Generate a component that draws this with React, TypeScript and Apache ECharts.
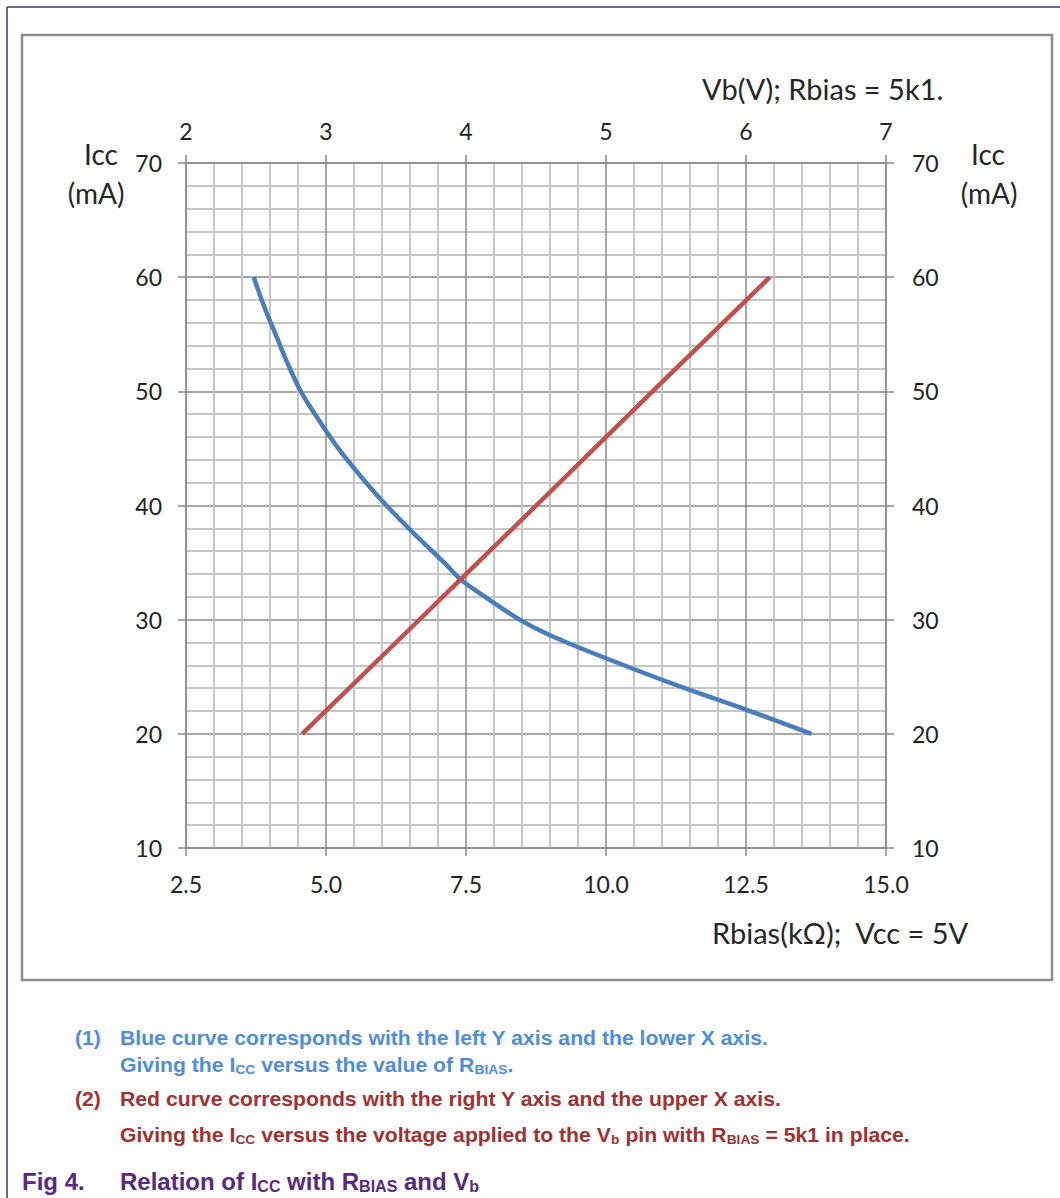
import React, { useEffect, useRef } from "react";
import * as echarts from "echarts";

// Blue curve: Icc (mA) versus Rbias (kΩ), lower X axis / left Y axis
const rbiasK = [3.71, 3.89, 4.10, 4.31, 4.55, 4.87, 5.22, 5.63, 6.08, 6.58, 7.11, 7.39, 7.69, 8.46, 9.06, 10.01, 11.32, 12.51, 13.67];
const iccBlue = [60, 57.5, 55, 52.5, 50, 47.5, 45, 42.5, 40, 37.5, 35, 33.6, 32.5, 30.0, 28.5, 26.6, 24.15, 22.1, 20.0];

// Red curve: Icc (mA) versus Vb (V), upper X axis / right Y axis
const vbVolt = [2.83, 3.50, 3.96, 4.56, 5.40, 6.17];
const iccRed = [20, 28.0, 33.5, 40.7, 50.8, 60];

// Axis ranges / ticks
const rbiasRange = [2.5, 15, 2.5];
const vbRange = [2, 7, 1];
const iccRange = [10, 70, 10];

const titleTop = "Vb(V); Rbias = 5k1.";
const titleBottom = "Rbias(kΩ);  Vcc = 5V";

const AXIS_COLOR = "#8a8a8a";
const MINOR_COLOR = "#c6c6c6";
const LABEL_COLOR = "#222";
const LABEL_FONT = "Lato";

function App() {
  const ref = useRef<HTMLDivElement>(null);
  useEffect(() => {
    if (!ref.current) return;
    const chart = echarts.init(ref.current, null, { renderer: "svg" });

    const axisCommon = {
      type: "value" as const,
      axisLine: { show: true, lineStyle: { color: AXIS_COLOR, width: 1.5 } },
      axisTick: { show: true, length: 8, lineStyle: { color: AXIS_COLOR, width: 1.5 } },
      axisLabel: { color: LABEL_COLOR, fontSize: 23, fontFamily: LABEL_FONT },
    };

    const blue = "#4f8ddb";
    const red = "#9e3232";
    const purple = "#57297f";

    const capText = (x: number, y: number, text: string, color: string, size = 20, subSize = 13, sx = 1.06) => ({
      type: "text",
      x,
      y,
      scaleX: sx,
      style: {
        text,
        fill: color,
        textAlign: "left",
        textVerticalAlign: "middle",
        rich: {
          a: { fontSize: size, lineHeight: size + 3, fontWeight: "bold", fontFamily: "Liberation Sans", fill: color },
          s: { fontSize: subSize, lineHeight: subSize, fontWeight: "bold", fontFamily: "Liberation Sans", verticalAlign: "bottom", fill: color },
        },
      },
    });

    const nameStyle = (text: string, align: string, size = 28) => ({
      text,
      fill: "#262626",
      font: `${size}px Lato`,
      textAlign: align,
      textVerticalAlign: "middle",
    });

    chart.setOption({
      animation: false,
      backgroundColor: "#ffffff",
      grid: { left: 186, top: 163, width: 700, height: 685, containLabel: false },
      xAxis: [
        {
          ...axisCommon,
          position: "bottom",
          min: rbiasRange[0],
          max: rbiasRange[1],
          interval: rbiasRange[2],
          axisLabel: { ...axisCommon.axisLabel, margin: 24, formatter: (v: number) => v.toFixed(1) },
          splitLine: { show: true, lineStyle: { color: AXIS_COLOR, width: 1.5 } },
          minorTick: { show: false, splitNumber: 5 },
          minorSplitLine: { show: true, lineStyle: { color: MINOR_COLOR, width: 2 } },
        },
        {
          ...axisCommon,
          position: "top",
          min: vbRange[0],
          max: vbRange[1],
          interval: vbRange[2],
          axisLabel: { ...axisCommon.axisLabel, margin: 21 },
          splitLine: { show: false },
        },
      ],
      yAxis: [
        {
          ...axisCommon,
          position: "left",
          min: iccRange[0],
          max: iccRange[1],
          interval: iccRange[2],
          axisLabel: { ...axisCommon.axisLabel, margin: 24 },
          splitLine: { show: true, lineStyle: { color: AXIS_COLOR, width: 1.5 } },
          minorTick: { show: false, splitNumber: 5 },
          minorSplitLine: { show: true, lineStyle: { color: MINOR_COLOR, width: 2 } },
        },
        {
          ...axisCommon,
          position: "right",
          min: iccRange[0],
          max: iccRange[1],
          interval: iccRange[2],
          axisLabel: { ...axisCommon.axisLabel, margin: 26 },
          splitLine: { show: false },
        },
      ],
      series: [
        {
          type: "line",
          xAxisIndex: 0,
          yAxisIndex: 0,
          data: rbiasK.map((x, i) => [x, iccBlue[i]]),
          smooth: 0.35,
          showSymbol: false,
          lineStyle: { color: "#4a7ebb", width: 4.5 },
          z: 3,
        },
        {
          type: "line",
          xAxisIndex: 1,
          yAxisIndex: 1,
          data: vbVolt.map((x, i) => [x, iccRed[i]]),
          showSymbol: false,
          lineStyle: { color: "#c0504d", width: 4.5 },
          z: 4,
        },
      ],
      graphic: [
        // outer page frame
        { type: "line", shape: { x1: 7, y1: 7, x2: 1060, y2: 7 }, style: { stroke: "#4b2c7f", lineWidth: 1.5 } },
        { type: "line", shape: { x1: 7, y1: 7, x2: 7, y2: 1198 }, style: { stroke: "#4b2c7f", lineWidth: 1.5 } },
        // chart frame
        { type: "rect", shape: { x: 22, y: 35, width: 1030, height: 945 }, style: { fill: "none", stroke: "#8e8e8e", lineWidth: 2.5 }, z: -1 },
        // axis names
        { type: "text", x: 101, y: 154, style: nameStyle("Icc", "center") },
        { type: "text", x: 96, y: 193, style: nameStyle("(mA)", "center") },
        { type: "text", x: 988, y: 154, style: nameStyle("Icc", "center") },
        { type: "text", x: 989, y: 193, style: nameStyle("(mA)", "center") },
        { type: "text", x: 702, y: 88, style: nameStyle(titleTop, "left", 29) },
        { type: "text", x: 712, y: 932, style: nameStyle(titleBottom, "left", 29) },
        // captions
        capText(75, 1038, "{a|(1)}", blue),
        capText(120, 1038, "{a|Blue curve corresponds with the left Y axis and the lower X axis.}", blue),
        capText(120, 1065, "{a|Giving the I}{s|CC}{a| versus the value of R}{s|BIAS}{a|.}", blue),
        capText(75, 1099, "{a|(2)}", red),
        capText(120, 1099, "{a|Red curve corresponds with the right Y axis and the upper X axis.}", red),
        capText(120, 1135, "{a|Giving the I}{s|CC}{a| versus the voltage applied to the V}{s|b}{a| pin with R}{s|BIAS}{a| = 5k1 in place.}", red),
        capText(22, 1181, "{a|Fig 4.}", purple, 24, 16, 1),
        capText(120, 1181, "{a|Relation of I}{s|CC}{a| with R}{s|BIAS}{a| and V}{s|b}", purple, 24, 16, 1),
      ],
    });
    return () => chart.dispose();
  }, []);
  return <div ref={ref} style={{ position: "absolute", left: 0, top: 0, width: 1060, height: 1198 }} />;
}

export default App;
